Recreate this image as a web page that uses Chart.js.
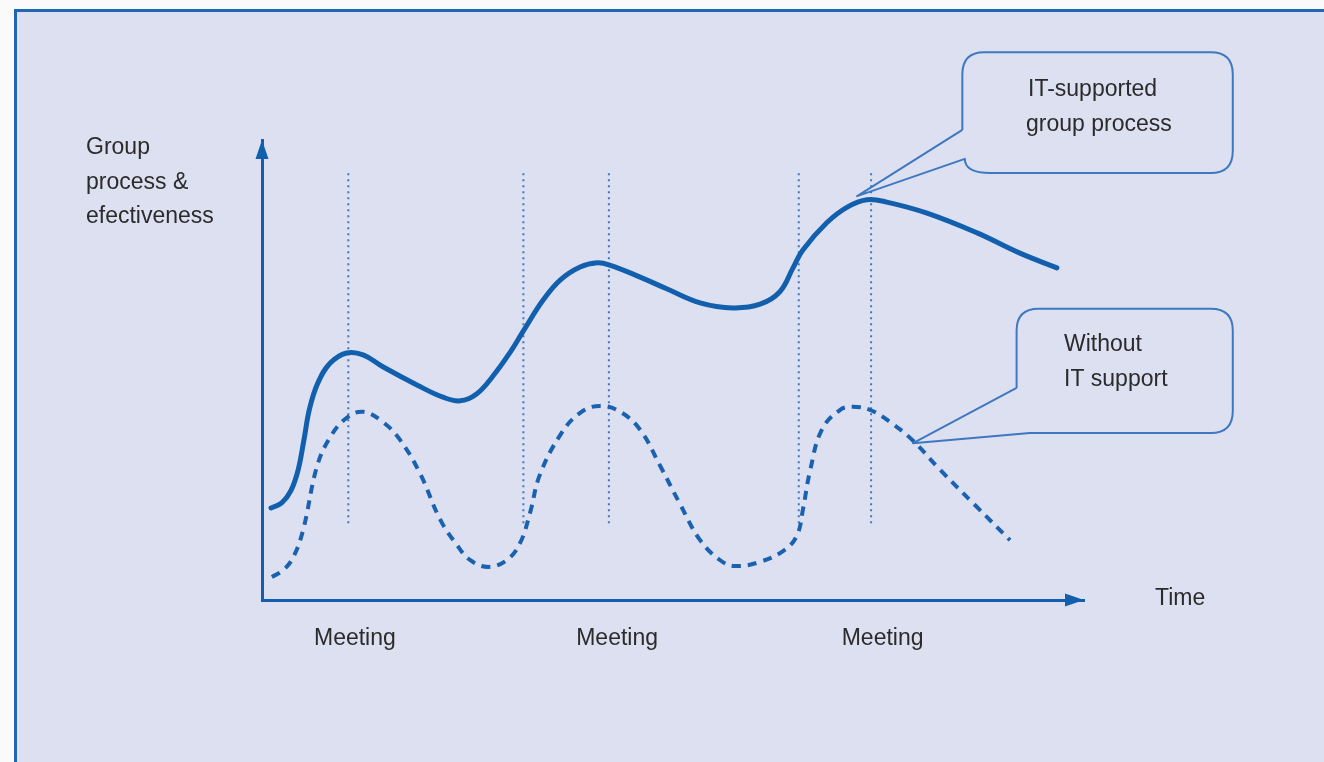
<!DOCTYPE html>
<html>
<head>
<meta charset="utf-8">
<script src="https://cdn.jsdelivr.net/npm/chart.js@4.4.1/dist/chart.umd.min.js"></script>
<style>
  html, body { margin: 0; padding: 0; background: #fafafa; overflow: hidden; }
  #panel {
    position: absolute; left: 14px; top: 9px; width: 1340px; height: 780px;
    background: #dde0f1; border-top: 3px solid #1f66b3; border-left: 3px solid #1f66b3;
  }
  #chart { position: absolute; left: 0; top: 0; }
</style>
</head>
<body>
<div id="panel"></div>
<canvas id="chart" width="1324" height="762"></canvas>
<script>
// time runs 0..100, effectiveness 0..100 (no units, conceptual diagram)
const itTime = [1.1, 2.4, 3.5, 4.4, 5.1, 5.8, 6.8, 8.3, 10.3, 12.3, 14.7, 18.9, 22.0, 24.1, 26.1, 28.1, 30.2,
  31.8, 34.2, 36.3, 38.7, 40.8, 42.3, 46.0, 49.3, 53.3, 57.3, 60.6, 63.0, 64.6, 65.8, 68.7,
  71.2, 73.6, 76.0, 80.9, 87.0, 92.2, 96.7];
const itValues = [20.0, 21.1, 23.7, 28.3, 34.8, 41.7, 47.2, 51.5, 53.7, 53.3, 50.7, 46.7, 44.1, 43.3, 44.8, 48.7, 53.9,
  58.5, 65.2, 69.6, 72.4, 73.3, 72.8, 70.2, 67.6, 64.6, 63.5, 64.3, 67.0, 72.2, 76.1, 82.0,
  85.4, 87.0, 86.5, 84.1, 79.8, 75.4, 72.2];

const noItTime = [1.2, 2.6, 3.8, 5.0, 6.7, 8.3, 10.3, 12.3, 14.7, 16.8, 19.2, 21.7, 23.7, 25.3, 27.5,
  29.8, 31.4, 32.6, 33.8, 36.3, 38.7, 41.1, 43.6, 46.0, 48.4, 50.9, 53.3, 55.7, 57.5, 60.6,
  63.6, 65.1, 65.8, 66.7, 68.1, 70.3, 71.9, 74.0, 76.4, 79.1, 82.5, 86.7, 91.0];
const noItValues = [5.0, 6.5, 9.3, 15.2, 29.1, 35.4, 39.6, 40.9, 38.7, 34.8, 27.6, 17.4, 12.0, 8.7, 7.2,
  8.7, 12.4, 18.9, 27.2, 35.9, 40.7, 42.2, 40.9, 37.0, 29.3, 20.7, 13.0, 8.7, 7.4, 8.3,
  10.9, 14.1, 19.6, 28.3, 37.0, 41.3, 42.0, 41.3, 38.7, 34.8, 28.3, 20.7, 13.0];

// dotted marker lines at meeting starts/ends
const meetingLines = [10.5, 31.8, 42.2, 65.3, 74.1];
const meetingLineRange = [16.7, 93.5];

// x tick labels
const meetingTicks = [11.3, 43.2, 75.5];
const meetingLabels = ['Meeting', 'Meeting', 'Meeting'];

const blue = '#1260ad';
const lineBlue = '#3d78c0';
const textColor = '#2b2b2b';
const font = '"Liberation Sans", Arial, sans-serif';

const toPoints = (xs, ys) => xs.map((x, i) => ({ x: x, y: ys[i] }));

const datasets = [
  {
    data: toPoints(itTime, itValues),
    borderColor: blue, borderWidth: 5, tension: 0.4,
    borderCapStyle: 'round', pointRadius: 0
  },
  {
    data: toPoints(noItTime, noItValues),
    borderColor: '#1a62b0', borderWidth: 4, borderDash: [9, 7], tension: 0.4,
    pointRadius: 0
  }
];
meetingLines.forEach(x => {
  datasets.push({
    data: [{ x: x, y: meetingLineRange[0] }, { x: x, y: meetingLineRange[1] }],
    borderColor: lineBlue, borderWidth: 2, borderDash: [2, 4], pointRadius: 0
  });
});

// callout boxes in scale units: box edges, tail start on left edge, tip, tail end on bottom edge
const callouts = [
  { left: 85.2, right: 118.1, top: 119.1, bottom: 92.8, tailY: 102.2, tip: [72.4, 87.8], back: [85.5, 95.9], backOnBottom: false,
    lines: ['IT-supported', 'group process'], textX: [1028, 1026], textY: [90, 125] },
  { left: 91.8, right: 118.1, top: 63.3, bottom: 36.3, tailY: 46.1, tip: [79.2, 34.1], back: [93.4, 36.3], backOnBottom: true,
    lines: ['Without', 'IT support'], textX: [1064, 1064], textY: [345, 380] }
];

const decorations = {
  id: 'decorations',
  afterDraw(chart) {
    const ctx = chart.ctx;
    const area = chart.chartArea;
    const xs = chart.scales.x, ys = chart.scales.y;
    ctx.save();

    // arrow heads
    ctx.fillStyle = blue;
    ctx.beginPath();
    ctx.moveTo(area.left, area.top);
    ctx.lineTo(area.left - 6.5, area.top + 19);
    ctx.lineTo(area.left + 6.5, area.top + 19);
    ctx.closePath();
    ctx.fill();
    ctx.beginPath();
    ctx.moveTo(area.right, area.bottom);
    ctx.lineTo(area.right - 19, area.bottom - 6.5);
    ctx.lineTo(area.right - 19, area.bottom + 6.5);
    ctx.closePath();
    ctx.fill();

    // callouts
    ctx.strokeStyle = lineBlue;
    ctx.lineWidth = 2;
    ctx.lineJoin = 'round';
    callouts.forEach(c => {
      const l = xs.getPixelForValue(c.left), r = xs.getPixelForValue(c.right);
      const t = ys.getPixelForValue(c.top), b = ys.getPixelForValue(c.bottom);
      const ty = ys.getPixelForValue(c.tailY);
      const tipX = xs.getPixelForValue(c.tip[0]), tipY = ys.getPixelForValue(c.tip[1]);
      const bx = xs.getPixelForValue(c.back[0]), by = ys.getPixelForValue(c.back[1]);
      const rad = 22;
      ctx.beginPath();
      ctx.moveTo(l, ty);
      ctx.lineTo(l, t + rad);
      ctx.quadraticCurveTo(l, t, l + rad, t);
      ctx.lineTo(r - rad, t);
      ctx.quadraticCurveTo(r, t, r, t + rad);
      ctx.lineTo(r, b - rad);
      ctx.quadraticCurveTo(r, b, r - rad, b);
      if (c.backOnBottom) {
        ctx.lineTo(bx, b);
      } else {
        ctx.lineTo(l + 28, b);
        ctx.quadraticCurveTo(bx, b, bx, by);
      }
      ctx.lineTo(tipX, tipY);
      ctx.lineTo(l, ty);
      ctx.stroke();

      ctx.fillStyle = textColor;
      ctx.font = '23px ' + font;
      ctx.textBaseline = 'middle';
      ctx.textAlign = 'left';
      c.lines.forEach((s, i) => ctx.fillText(s, c.textX[i], c.textY[i]));
    });

    // axis titles
    ctx.fillStyle = textColor;
    ctx.font = '23px ' + font;
    ctx.textBaseline = 'middle';
    ctx.textAlign = 'left';
    ['Group', 'process &', 'efectiveness'].forEach((s, i) => ctx.fillText(s, 86, 148 + i * 34.5));
    ctx.fillText('Time', 1155, area.bottom - 1);
    ctx.restore();
  }
};

new Chart(document.getElementById('chart'), {
  type: 'line',
  data: { datasets: datasets },
  options: {
    responsive: false,
    animation: false,
    events: [],
    layout: { padding: { left: 262, right: 240, top: 140, bottom: 102 } },
    plugins: { legend: { display: false }, tooltip: { enabled: false } },
    scales: {
      x: {
        type: 'linear', min: 0, max: 100,
        border: { display: true, color: blue, width: 3 },
        grid: { display: false, drawTicks: false },
        afterBuildTicks: scale => { scale.ticks = meetingTicks.map(v => ({ value: v })); },
        afterFit: scale => { scale.height = 60; },
        ticks: {
          autoSkip: false, maxRotation: 0, padding: 25, color: textColor,
          font: { family: font, size: 23 },
          callback: (value, index) => meetingLabels[index]
        }
      },
      y: {
        type: 'linear', min: 0, max: 100,
        border: { display: true, color: blue, width: 3 },
        grid: { display: false, drawTicks: false },
        ticks: { display: false },
        afterFit: scale => { scale.width = 0; }
      }
    }
  },
  plugins: [decorations]
});
</script>
</body>
</html>
